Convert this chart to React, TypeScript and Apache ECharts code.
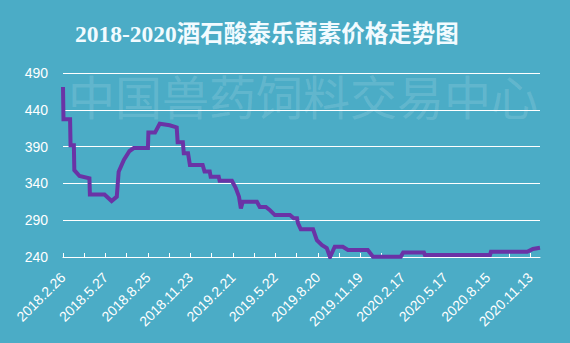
import React, { useEffect, useRef } from "react";
import * as echarts from "echarts";

const titleText = "2018-2020酒石酸泰乐菌素价格走势图";
const watermarkText = "中国兽药饲料交易中心";

// Tick labels shown every 90 days along the x axis
const xLabels = [
  "2018.2.26", "2018.5.27", "2018.8.25", "2018.11.23", "2019.2.21", "2019.5.22",
  "2019.8.20", "2019.11.19", "2020.2.17", "2020.5.17", "2020.8.15", "2020.11.13",
];

// Days since 2018.2.26 at which the price was read
const dayOffsets = [
  0, 1, 15, 16, 23, 24, 35, 56, 57, 88, 103, 114, 118, 129, 141, 150, 180, 181, 195, 205,
  226, 241, 243, 254, 256, 265, 269, 296, 300, 311, 313, 330, 332, 358, 366, 373, 377, 381,
  411, 417, 430, 438, 449, 481, 489, 496, 498, 504, 530, 538, 549, 559, 566, 576, 593, 604,
  646, 657, 716, 721, 765, 767, 905, 907, 984, 996, 1011,
];
// Price (元/kg) at those days
const prices = [
  471, 427, 427, 392, 392, 358, 350, 347, 325, 325, 316, 322, 356, 372, 384, 388, 388, 409, 409, 421,
  419, 416, 396, 396, 381, 381, 365, 365, 356, 356, 349, 349, 343.5, 343.5, 334, 322, 306, 315,
  315, 308, 308, 304, 297, 297, 292.5, 292.5, 286, 277.6, 277.6, 263, 256, 252, 240, 254, 254, 249.5,
  249.5, 240.5, 240.5, 246, 246, 242.7, 242.7, 247, 247, 251, 252.6,
];
const yTicks = [240, 290, 340, 390, 440, 490];

export default function App() {
  const ref = useRef<HTMLDivElement>(null);
  useEffect(() => {
    if (!ref.current) return;
    const chart = echarts.init(ref.current, undefined, { renderer: "svg" });
    chart.setOption({
      animation: false,
      backgroundColor: "#4BACC6",
      title: {
        text: titleText,
        left: 70,
        top: 17,
        textStyle: {
          color: "#f2fbff",
          fontSize: 23.5,
          fontWeight: "bold",
          fontFamily: "'Liberation Serif', 'Noto Sans CJK SC', serif",
        },
      },
      graphic: [
        {
          type: "text",
          left: 68,
          top: 71,
          z: 0,
          silent: true,
          style: {
            text: watermarkText,
            fontSize: 47,
            fontFamily: "'Noto Sans CJK SC', sans-serif",
            fill: "rgba(255,255,255,0.14)",
          },
        },
      ],
      grid: { left: 63, right: 30, top: 73, bottom: 86 },
      xAxis: {
        type: "value",
        min: 0,
        max: 1011,
        interval: 45,
        splitLine: { show: false },
        axisLine: { lineStyle: { color: "#ffffff", width: 1 } },
        axisTick: { show: true, inside: true, length: 4, lineStyle: { color: "#ffffff" } },
        axisLabel: {
          rotate: 45,
          margin: 18,
          color: "#ffffff",
          fontSize: 14,
          fontFamily: "'Liberation Sans', Arial, sans-serif",
          showMaxLabel: false,
          formatter: (v: number) => (v % 90 === 0 ? xLabels[v / 90] ?? "" : ""),
        },
      },
      yAxis: {
        type: "value",
        min: yTicks[0],
        max: yTicks[yTicks.length - 1],
        interval: 50,
        axisLine: { show: false },
        axisTick: { show: false },
        splitLine: { lineStyle: { color: "#ffffff", width: 1 } },
        axisLabel: {
          margin: 15,
          color: "#ffffff",
          fontSize: 14,
          fontFamily: "'Liberation Sans', Arial, sans-serif",
        },
      },
      series: [
        {
          type: "line",
          data: dayOffsets.map((d, i) => [d, prices[i]]),
          symbol: "none",
          lineStyle: { color: "#6a33a6", width: 4, join: "miter" },
          z: 3,
        },
      ],
    });
    return () => chart.dispose();
  }, []);
  return (
    <div
      ref={ref}
      style={{ position: "fixed", left: 0, top: 0, width: 570, height: 343 }}
    />
  );
}
